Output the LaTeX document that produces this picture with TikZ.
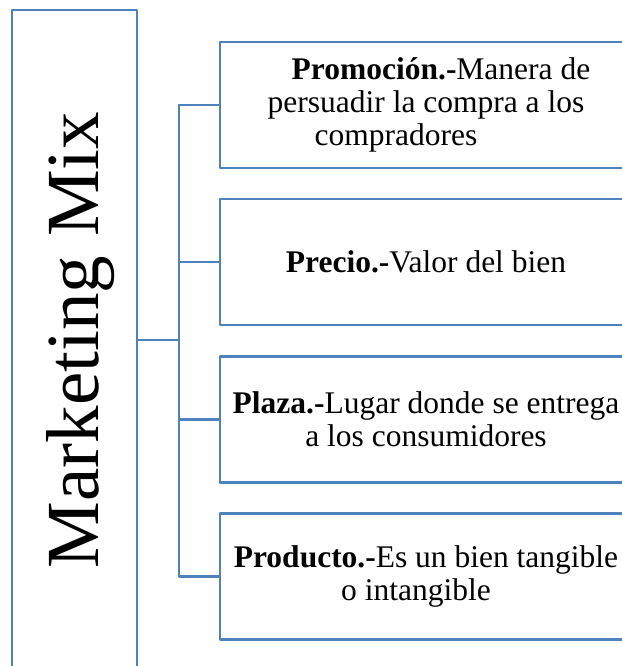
\documentclass[tikz,border=0pt]{standalone}
\usepackage{fontspec}
\setmainfont{Liberation Serif}
\definecolor{mixblue}{HTML}{4F81BD}
\begin{document}
\begin{tikzpicture}[line cap=round, line join=round, x=1pt, y=-1pt,
    frame/.style={draw=mixblue, line width=2.6pt, inner sep=0pt},
    item/.style={frame, minimum width=412pt, minimum height=126pt, align=center, font=\fontsize{31.5}{33}\selectfont},
    link/.style={draw=mixblue, line width=2.6pt}]

    \useasboundingbox (0,0) rectangle (621,666);

    \node[frame, minimum width=125pt, minimum height=660pt] (mix) at (74.5,340) {};
    \node[rotate=90, anchor=base, font=\fontsize{75}{80}\selectfont] (mixtitle) at (98,340) {Marketing Mix};

    \node[item] (promo) at (426,105) {\hspace*{30pt}\textbf{Promoción.-}Manera de\\persuadir la compra a los\\compradores\hspace*{60pt}};
    \node[item] (precio) at (426,262) {\textbf{Precio.-}Valor del bien};
    \node[item] (plaza) at (426,419.5) {\textbf{Plaza.-}Lugar donde se entrega\\a los consumidores};
    \node[item] (producto) at (426,576.5) {\textbf{Producto.-}Es un bien tangible\\o intangible\hspace*{20pt}};

    \coordinate (fork) at (179,340);
    \draw[link] (mix.east) -- (fork);
    \foreach \b in {promo,precio,plaza,producto}
        \draw[link] (fork) |- (\b.west);

\end{tikzpicture}
\end{document}
